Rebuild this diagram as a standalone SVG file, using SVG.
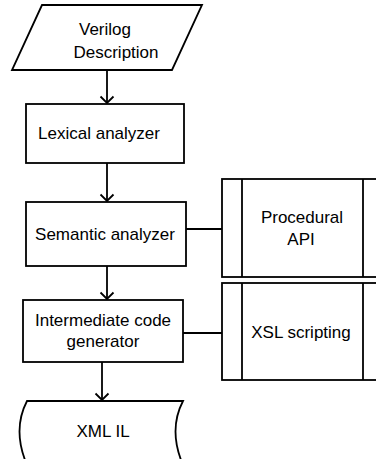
<svg xmlns="http://www.w3.org/2000/svg" width="376" height="459" viewBox="0 0 376 459">
<style>
.s{fill:#fff;stroke:#000;stroke-width:1.8}
.t{font-family:"Liberation Sans",Arial,sans-serif;font-size:17px;fill:#000;text-anchor:middle}
.c{fill:none;stroke:#000;stroke-width:1.8}
</style>
<defs>
<marker id="a" markerWidth="10" markerHeight="16" refX="8" refY="8" orient="auto" markerUnits="userSpaceOnUse" viewBox="0 0 10 16">
<path d="M1.5,1.5 L8,8 L1.5,14.5" fill="none" stroke="#000" stroke-width="1.8"/>
</marker>
</defs>
<rect width="376" height="459" fill="#fff"/>
<g id="connectors">
<line class="c" x1="107" y1="70" x2="107" y2="103" marker-end="url(#a)"/>
<line class="c" x1="107" y1="163" x2="107" y2="201" marker-end="url(#a)"/>
<line class="c" x1="107" y1="266" x2="107" y2="299" marker-end="url(#a)"/>
<line class="c" x1="102" y1="362" x2="102" y2="400" marker-end="url(#a)"/>
<line class="c" x1="186" y1="229" x2="222" y2="229"/>
<line class="c" x1="183" y1="333" x2="222" y2="333"/>
</g>
<g id="verilog">
<polygon class="s" points="42,5 202,5 172,70 12,70"/>
<text class="t" x="105" y="35">Verilog</text>
<text class="t" x="116" y="58">Description</text>
</g>
<g id="lexical">
<rect class="s" x="26" y="104" width="158" height="59"/>
<text class="t" x="99" y="139">Lexical analyzer</text>
</g>
<g id="semantic">
<rect class="s" x="26" y="202" width="160" height="64"/>
<text class="t" x="105" y="240">Semantic analyzer</text>
</g>
<g id="procedural">
<rect class="s" x="222" y="179" width="160" height="98"/>
<line class="c" x1="242" y1="179" x2="242" y2="277"/>
<line class="c" x1="363" y1="179" x2="363" y2="277"/>
<text class="t" x="302" y="223">Procedural</text>
<text class="t" x="301" y="245">API</text>
</g>
<g id="intermediate">
<rect class="s" x="23" y="300" width="160" height="62"/>
<text class="t" x="103" y="326">Intermediate code</text>
<text class="t" x="103" y="347">generator</text>
</g>
<g id="xsl">
<rect class="s" x="222" y="283" width="160" height="97"/>
<line class="c" x1="242" y1="283" x2="242" y2="380"/>
<line class="c" x1="363" y1="283" x2="363" y2="380"/>
<text class="t" x="301" y="338">XSL scripting</text>
</g>
<g id="xmlil">
<path class="s" d="M27,401 L183,401 Q168,430 183,465 L27,465 Q12,430 27,401 Z"/>
<text class="t" x="103" y="437">XML IL</text>
</g>
</svg>
